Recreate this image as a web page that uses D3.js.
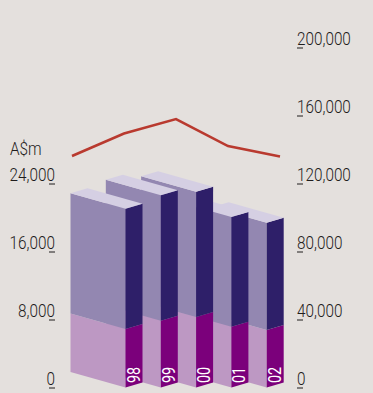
<!DOCTYPE html>
<html>
<head>
<meta charset="utf-8">
<script src="https://cdn.jsdelivr.net/npm/d3@7"></script>
<style>
  html, body { margin: 0; padding: 0; background: #e4e0dd; }
  svg { display: block; }
  text { font-family: Roboto, "Liberation Sans", sans-serif; font-weight: 300; fill: #1f1c1c; }
</style>
</head>
<body>
<svg id="chart" width="373" height="393"></svg>
<script>
// Financial years and the stacked amounts, A$m (left axis)
const years = ["98", "99", "00", "01", "02"];
const lowerValues = [6880, 7860, 8290, 7150, 6760];
const totalValues = [21035, 22610, 23035, 20060, 19390];
// Line series read against the right axis
const lineValues = [136200, 149400, 157900, 142000, 135900];
const leftTicks = [0, 8000, 16000, 24000];
const rightTicks = [0, 40000, 80000, 120000, 160000, 200000];

const colors = {
  lowerLeft: "#bd98c3", lowerRight: "#7b007b",
  upperLeft: "#9387b1", upperRight: "#2e1f69",
  top: "#d5cfe3", line: "#b93a2f"
};

// Oblique projection of each block: left face and right face run away from the front edge
const depth = { leftW: 55, leftH: 15.5, rightW: 17, rightH: 5 };

const svg = d3.select("#chart");
const baseY = 387.5;
const yLeft = d3.scaleLinear().domain([0, 24000]).range([baseY, baseY - 204]);
const yRight = d3.scaleLinear().domain([0, 200000]).range([baseY, baseY - 340]);
const xFront = d3.scalePoint().domain(years).range([125.5, 266.7]);
const xLine = d3.scalePoint().domain(years).range([72, 280]);

const rows = years.map((year, i) => ({ year, lower: lowerValues[i], total: totalValues[i], line: lineValues[i] }));

const poly = pts => "M" + pts.map(p => p.join(",")).join("L") + "Z";
const leftFace = (x, y0, y1) => poly([
  [x, y0], [x - depth.leftW, y0 - depth.leftH], [x - depth.leftW, y1 - depth.leftH], [x, y1]
]);
const rightFace = (x, y0, y1) => poly([
  [x, y0], [x + depth.rightW, y0 - depth.rightH], [x + depth.rightW, y1 - depth.rightH], [x, y1]
]);
const topFace = (x, y) => poly([
  [x, y], [x + depth.rightW, y - depth.rightH],
  [x + depth.rightW - depth.leftW, y - depth.rightH - depth.leftH],
  [x - depth.leftW, y - depth.leftH]
]);

// The typeface is a condensed one: squeeze the set width of each label
const condense = (sel, ratio) => sel.each(function () {
  const len = this.getComputedTextLength();
  d3.select(this).attr("textLength", len * ratio).attr("lengthAdjust", "spacingAndGlyphs");
});

// Nearest block goes last, so the blocks are painted from 02 back to 98
const blocks = svg.append("g").selectAll("g")
  .data(rows.slice().reverse())
  .join("g");

const face = (fn, from, to, fill) => blocks.append("path")
  .attr("d", d => fn(xFront(d.year), yLeft(from(d)), yLeft(to(d))))
  .attr("fill", fill);

face(leftFace, () => 0, d => d.lower, colors.lowerLeft);
face(leftFace, d => d.lower, d => d.total, colors.upperLeft);
face(rightFace, () => 0, d => d.lower, colors.lowerRight);
face(rightFace, d => d.lower, d => d.total, colors.upperRight);
blocks.append("path")
  .attr("d", d => topFace(xFront(d.year), yLeft(d.total)))
  .attr("fill", colors.top);

// Year labels run up the right face of each block
blocks.append("text")
  .attr("transform", d => `translate(${xFront(d.year) + 14},${baseY - 4.5}) rotate(-90)`)
  .style("fill", "#ffffff")
  .style("font-weight", 400)
  .attr("font-size", 18)
  .text(d => d.year)
  .call(condense, 0.8);

svg.append("path")
  .datum(rows)
  .attr("fill", "none")
  .attr("stroke", colors.line)
  .attr("stroke-width", 2.6)
  .attr("d", d3.line().x(d => xLine(d.year)).y(d => yRight(d.line)));

// Axes: the tick is a short rule under the last or first digit of its label
const fmt = d3.format(",");
const styleAxis = (g, tickX1, tickX2, textX, anchor) => {
  g.select(".domain").remove();
  g.selectAll(".tick line")
    .attr("x1", tickX1).attr("x2", tickX2).attr("y1", 0).attr("y2", 0)
    .attr("stroke", "#1f1c1c").attr("stroke-width", 1);
  g.selectAll(".tick text")
    .attr("x", textX).attr("y", -3.5).attr("dy", 0)
    .attr("text-anchor", anchor)
    .attr("font-size", 18).attr("font-family", null)
    .call(condense, 0.85);
};

svg.append("g")
  .call(d3.axisLeft(yLeft).tickValues(leftTicks).tickFormat(fmt))
  .call(g => styleAxis(g, 49, 55, 55, "end"));

svg.append("g")
  .call(d3.axisRight(yRight).tickValues(rightTicks).tickFormat(fmt))
  .call(g => styleAxis(g, 297, 303, 297, "start"));

svg.append("text")
  .attr("x", 10).attr("y", 155)
  .attr("font-size", 18)
  .text("A$m")
  .call(condense, 0.85);
</script>
</body>
</html>
